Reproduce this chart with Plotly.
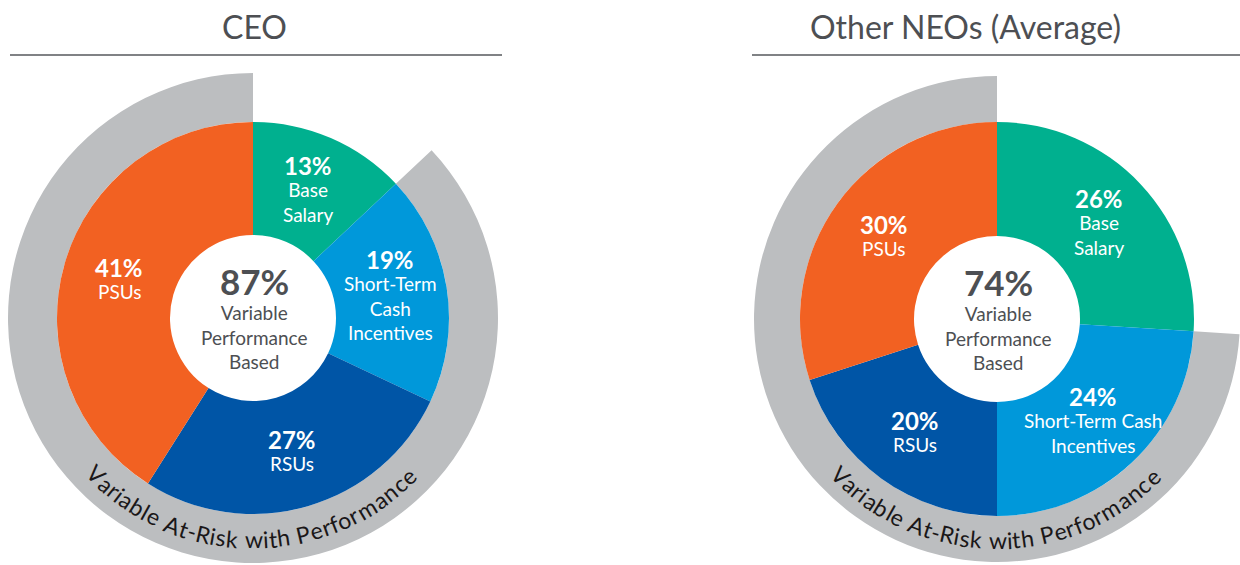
import math
import plotly.graph_objects as go

W, H = 1240, 565

# ---------------- data ----------------
categories = ["Base Salary", "Short-Term Cash Incentives", "RSUs", "PSUs"]
ceo_values = [13, 19, 27, 41]
neo_values = [26, 24, 20, 30]
ceo_labels = [["Base", "Salary"], ["Short-Term", "Cash", "Incentives"], ["RSUs"], ["PSUs"]]
neo_labels = [["Base", "Salary"], ["Short-Term Cash", "Incentives"], ["RSUs"], ["PSUs"]]
ceo_variable = 87
neo_variable = 74
titles = ["CEO", "Other NEOs (Average)"]
center_lines = ["Variable", "Performance", "Based"]
ring_text = "Variable At-Risk with Performance"

# ---------------- style ----------------
colors = ["#00B08F", "#0098DA", "#0055A6", "#F26122"]
ring_color = "#BCBEC0"
dark = "#4D4F53"
FONT = "Lato"
LBL = 19
LS = LBL * 1.3

charts = [
    dict(values=ceo_values, labels=ceo_labels, variable=ceo_variable, title=titles[0],
         cx=253, cy=318, R=196, Rring=245, hole=83, title_x=254, line=(10, 502)),
    dict(values=neo_values, labels=neo_labels, variable=neo_variable, title=titles[1],
         cx=997, cy=319, R=197, Rring=243, hole=83, title_x=965, line=(752, 1240)),
]

# approximate relative character advance widths (em)
CW = {"V": .62, "a": .5, "r": .35, "i": .24, "b": .55, "l": .24, "e": .52, " ": .26,
      "A": .66, "t": .34, "-": .34, "R": .6, "s": .42, "k": .5, "w": .76, "h": .55,
      "P": .57, "f": .32, "o": .56, "m": .82, "n": .55, "c": .46}


def px(x, y):
    return x / W, 1 - y / H


def dom(cx, cy, r):
    return dict(x=[(cx - r) / W, (cx + r) / W], y=[1 - (cy + r) / H, 1 - (cy - r) / H])


fig = go.Figure()
annotations = []
shapes = []

for ch in charts:
    cx, cy = ch["cx"], ch["cy"]
    fixed = 100 - ch["variable"]
    # outer grey ring covering the variable (at-risk) portion
    fig.add_trace(go.Pie(
        values=[fixed, ch["variable"]], labels=["Fixed", "Variable"],
        marker=dict(colors=["rgba(0,0,0,0)", ring_color], line=dict(width=0)),
        hole=ch["R"] / ch["Rring"], sort=False, direction="clockwise", rotation=0,
        textinfo="none", hoverinfo="skip", showlegend=False,
        domain=dom(cx, cy, ch["Rring"]),
    ))
    # main donut
    fig.add_trace(go.Pie(
        values=ch["values"], labels=categories,
        marker=dict(colors=colors, line=dict(width=0)),
        hole=ch["hole"] / ch["R"], sort=False, direction="clockwise", rotation=0,
        textinfo="none", hoverinfo="skip", showlegend=False,
        domain=dom(cx, cy, ch["R"]),
    ))

    # slice labels positioned at each slice's mid-angle
    total = sum(ch["values"])
    cum = 0
    for v, lab in zip(ch["values"], ch["labels"]):
        mid = (cum + v / 2) / total * 2 * math.pi
        cum += v
        r = 0.71 * ch["R"]
        x = cx + r * math.sin(mid)
        y = cy - r * math.cos(mid)
        n = len(lab)
        c0 = y - (24 + (n - 1) * LS) / 2
        ax, ay = px(x, c0)
        annotations.append(dict(x=ax, y=ay, xref="paper", yref="paper", showarrow=False,
                                text="<b>%d%%</b>" % v, xanchor="center", yanchor="middle",
                                font=dict(family=FONT, size=24, color="white")))
        lx, ly = px(x, c0 + 24 + (n - 1) * LS / 2)
        annotations.append(dict(x=lx, y=ly, xref="paper", yref="paper", showarrow=False,
                                text="<br>".join(lab), xanchor="center", yanchor="middle",
                                align="center",
                                font=dict(family=FONT, size=LBL, color="white")))

    # centre text
    ax, ay = px(cx + 1, cy - 37)
    annotations.append(dict(x=ax, y=ay, xref="paper", yref="paper", showarrow=False,
                            text="<b>%d%%</b>" % ch["variable"], xanchor="center", yanchor="middle",
                            font=dict(family=FONT, size=35, color=dark)))
    ax, ay = px(cx + 1, cy + 19)
    annotations.append(dict(x=ax, y=ay, xref="paper", yref="paper", showarrow=False,
                            text="<br>".join(center_lines), xanchor="center", yanchor="middle",
                            font=dict(family=FONT, size=LBL, color=dark)))

    # title + rule
    tx, ty = px(ch["title_x"], 26)
    annotations.append(dict(x=tx, y=ty, xref="paper", yref="paper", showarrow=False,
                            text=ch["title"], xanchor="center", yanchor="middle",
                            font=dict(family=FONT, size=32, color=dark)))
    x0, _ = px(ch["line"][0], 0)
    x1, _ = px(ch["line"][1], 0)
    _, yl = px(0, 55)
    shapes.append(dict(type="line", xref="paper", yref="paper", x0=x0, x1=x1, y0=yl, y1=yl,
                       line=dict(color="#808285", width=2)))

    # curved ring text along the bottom of the grey ring
    widths = [CW.get(c, .5) for c in ring_text]
    tot = sum(widths)
    a0, a1 = -47.0, 46.0
    rt = (ch["R"] + ch["Rring"]) / 2 + 1
    acc = 0
    for c, w in zip(ring_text, widths):
        frac = (acc + w / 2) / tot
        acc += w
        if c == " ":
            continue
        a = math.radians(a0 + frac * (a1 - a0))
        x = cx + rt * math.sin(a)
        y = cy + rt * math.cos(a)
        ax, ay = px(x, y)
        annotations.append(dict(x=ax, y=ay, xref="paper", yref="paper", showarrow=False,
                                text=c, xanchor="center", yanchor="middle",
                                textangle=-math.degrees(a),
                                font=dict(family=FONT, size=23, color="#1A1718")))

fig.update_layout(
    width=W, height=H, margin=dict(l=0, r=0, t=0, b=0),
    paper_bgcolor="white", plot_bgcolor="white",
    annotations=annotations, shapes=shapes, showlegend=False,
)

fig.write_html("out.html")
